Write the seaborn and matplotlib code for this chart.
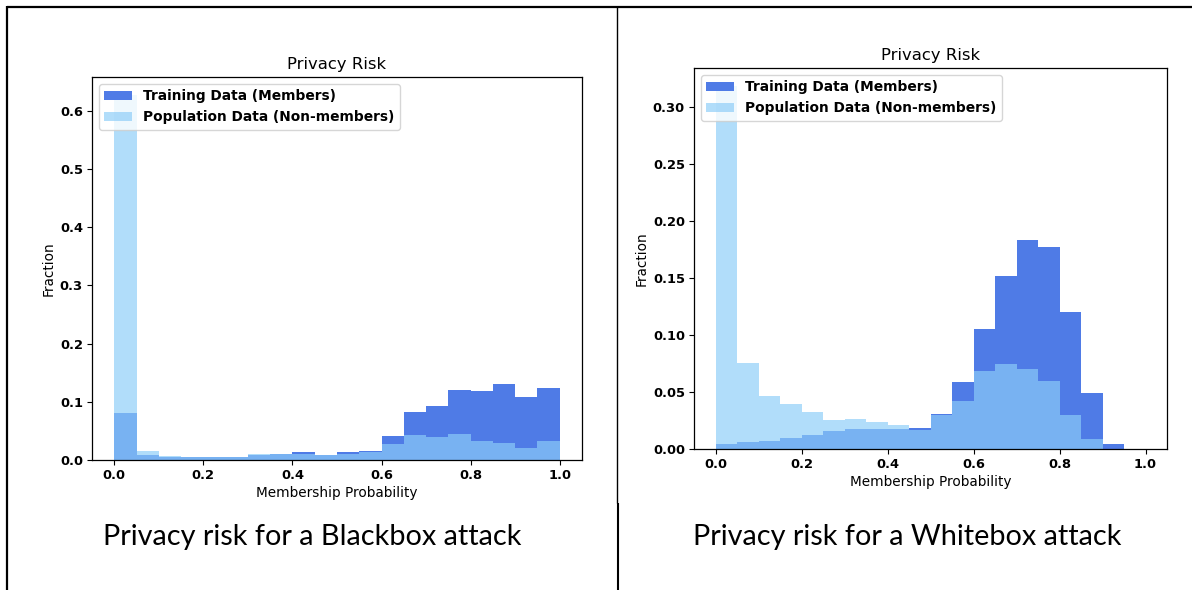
import numpy as np
import matplotlib
matplotlib.use("Agg")
import matplotlib.pyplot as plt
from matplotlib.patches import Patch
from matplotlib.lines import Line2D
import seaborn as sns

# ---------------- data ----------------
bin_edges = [round(i * 0.05, 2) for i in range(21)]

blackbox_members = [0.080, 0.009, 0.006, 0.005, 0.005, 0.006, 0.009, 0.010, 0.013, 0.008,
                    0.013, 0.016, 0.041, 0.082, 0.093, 0.120, 0.118, 0.130, 0.109, 0.123]
blackbox_nonmembers = [0.627, 0.015, 0.007, 0.006, 0.005, 0.006, 0.010, 0.011, 0.011, 0.008,
                       0.011, 0.013, 0.027, 0.043, 0.040, 0.045, 0.033, 0.030, 0.020, 0.033]

whitebox_members = [0.004, 0.006, 0.007, 0.009, 0.012, 0.015, 0.017, 0.017, 0.017, 0.018,
                    0.030, 0.058, 0.105, 0.151, 0.183, 0.177, 0.120, 0.049, 0.004, 0.0]
whitebox_nonmembers = [0.318, 0.075, 0.046, 0.039, 0.032, 0.025, 0.026, 0.023, 0.021, 0.016,
                       0.029, 0.042, 0.068, 0.074, 0.070, 0.059, 0.029, 0.008, 0.0, 0.0]

blackbox_yticks = [0.0, 0.1, 0.2, 0.3, 0.4, 0.5, 0.6]
whitebox_yticks = [0.00, 0.05, 0.10, 0.15, 0.20, 0.25, 0.30]
xticks = [0.0, 0.2, 0.4, 0.6, 0.8, 1.0]

legend_labels = ["Training Data (Members)", "Population Data (Non-members)"]
title = "Privacy Risk"
xlabel = "Membership Probability"
ylabel = "Fraction"
captions = ["Privacy risk for a Blackbox attack", "Privacy risk for a Whitebox attack"]

# ---------------- style ----------------
DARK = "#4f7be6"
LIGHT = "#8ccdf8"
LIGHT_ALPHA = 0.68

centers = [(bin_edges[i] + bin_edges[i + 1]) / 2 for i in range(len(bin_edges) - 1)]

fig = plt.figure(figsize=(11.92, 5.90), dpi=100)

ax_l = fig.add_axes([92 / 1192, 1 - 460 / 590, 490 / 1192, 383 / 590])
ax_r = fig.add_axes([694 / 1192, 1 - 448.5 / 590, 473 / 1192, 380.5 / 590])


def draw(ax, members, nonmembers, yticks, yfmt):
    sns.histplot(x=centers, weights=members, bins=bin_edges, ax=ax, stat="count",
                 color=DARK, alpha=1.0, linewidth=0, edgecolor="none")
    sns.histplot(x=centers, weights=nonmembers, bins=bin_edges, ax=ax, stat="count",
                 color=LIGHT, alpha=LIGHT_ALPHA, linewidth=0, edgecolor="none")
    ymax = max(max(members), max(nonmembers))
    ax.set_xlim(-0.05, 1.05)
    ax.set_ylim(0, ymax * 1.05)
    ax.set_xticks(xticks)
    ax.set_xticklabels([f"{t:.1f}" for t in xticks])
    ax.set_yticks(yticks)
    ax.set_yticklabels([yfmt.format(t) for t in yticks])
    for lab in ax.get_xticklabels() + ax.get_yticklabels():
        lab.set_fontweight("bold")
        lab.set_fontsize(9.4)
    ax.tick_params(length=3.5, width=0.8, pad=3)
    ax.set_title(title, fontsize=11.8, pad=6)
    ax.set_xlabel(xlabel, fontsize=9.8, labelpad=3)
    ax.set_ylabel(ylabel, fontsize=9.8, labelpad=3)
    for s in ax.spines.values():
        s.set_linewidth(0.9)
    handles = [Patch(facecolor=DARK, edgecolor="none"),
               Patch(facecolor=LIGHT, alpha=LIGHT_ALPHA, edgecolor="none")]
    ax.legend(handles, legend_labels, loc="upper left",
              prop={"weight": "bold", "size": 9.9})


draw(ax_l, blackbox_members, blackbox_nonmembers, blackbox_yticks, "{:.1f}")
draw(ax_r, whitebox_members, whitebox_nonmembers, whitebox_yticks, "{:.2f}")

# captions
fig.text(312 / 1192, 1 - 537 / 590, captions[0], ha="center", va="center",
         fontsize=20.8, family="Lato")
fig.text(907.5 / 1192, 1 - 537 / 590, captions[1], ha="center", va="center",
         fontsize=20.8, family="Lato")

# table-like frame lines
W, H = 1192.0, 590.0
fig.add_artist(Line2D([7 / W, 1.0], [1 - 7 / H, 1 - 7 / H], color="black", lw=1.6,
                      transform=fig.transFigure, solid_capstyle="butt"))
fig.add_artist(Line2D([7 / W, 7 / W], [1 - 6 / H, 0.0], color="black", lw=1.6,
                      transform=fig.transFigure, solid_capstyle="butt"))
fig.add_artist(Line2D([617 / W, 617 / W], [1 - 6 / H, 1 - 503 / H], color="black", lw=1.0,
                      transform=fig.transFigure, solid_capstyle="butt"))
fig.add_artist(Line2D([617.8 / W, 617.8 / W], [1 - 503 / H, 0.0], color="black", lw=1.5,
                      transform=fig.transFigure, solid_capstyle="butt"))

fig.savefig("out.png", dpi=100)
